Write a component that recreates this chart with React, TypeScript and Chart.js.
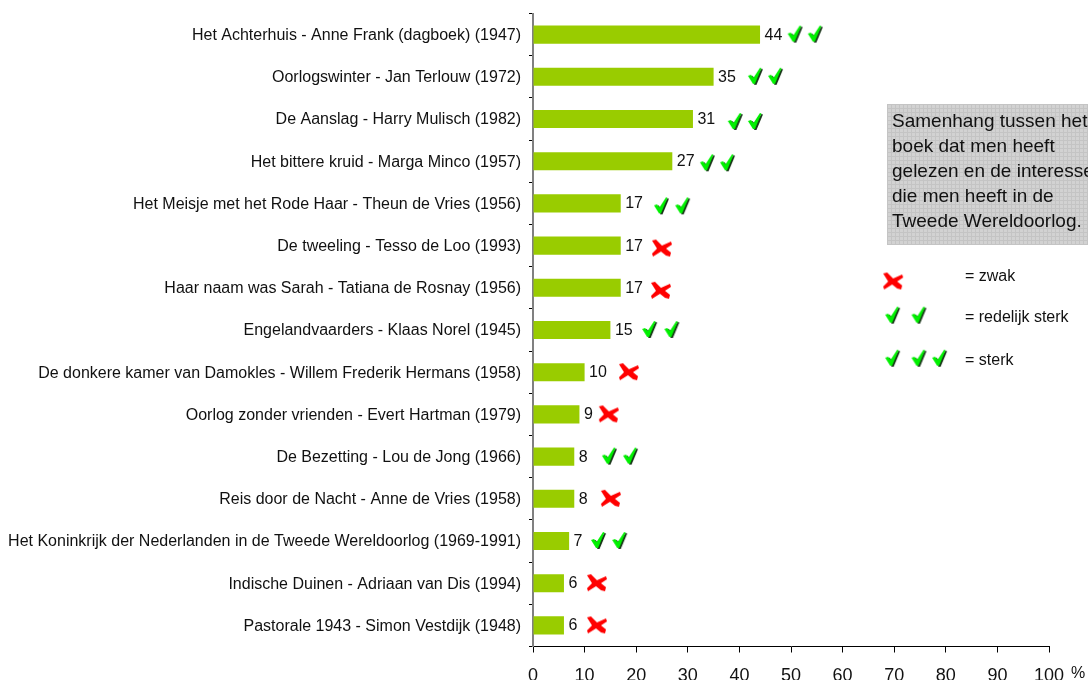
import React, { useEffect, useRef } from "react";
import { Chart, registerables } from "chart.js";

Chart.register(...registerables);

const titles = [
  "Het Achterhuis - Anne Frank (dagboek) (1947)",
  "Oorlogswinter - Jan Terlouw (1972)",
  "De Aanslag - Harry Mulisch (1982)",
  "Het bittere kruid - Marga Minco (1957)",
  "Het Meisje met het Rode Haar - Theun de Vries (1956)",
  "De tweeling - Tesso de Loo (1993)",
  "Haar naam was Sarah - Tatiana de Rosnay (1956)",
  "Engelandvaarders - Klaas Norel (1945)",
  "De donkere kamer van Damokles - Willem Frederik Hermans (1958)",
  "Oorlog zonder vrienden - Evert Hartman (1979)",
  "De Bezetting - Lou de Jong (1966)",
  "Reis door de Nacht - Anne de Vries (1958)",
  "Het Koninkrijk der Nederlanden in de Tweede Wereldoorlog (1969-1991)",
  "Indische Duinen - Adriaan van Dis (1994)",
  "Pastorale 1943 - Simon Vestdijk (1948)",
];
const percentages = [44, 35, 31, 27, 17, 17, 17, 15, 10, 9, 8, 8, 7, 6, 6];

const checkMarks = [
  { x: 50.9, y: 0 }, { x: 54.8, y: 0 },
  { x: 43.2, y: 1 }, { x: 47.1, y: 1 },
  { x: 39.3, y: 2.07 }, { x: 43.2, y: 2.07 },
  { x: 33.9, y: 3.05 }, { x: 37.8, y: 3.05 },
  { x: 25.0, y: 4.07 }, { x: 29.1, y: 4.07 },
  { x: 22.7, y: 7 }, { x: 27.0, y: 7 },
  { x: 14.9, y: 10 }, { x: 19.0, y: 10 },
  { x: 12.8, y: 12 }, { x: 16.9, y: 12 },
];
const crossMarks = [
  { x: 25.0, y: 5.07 },
  { x: 24.8, y: 6.07 },
  { x: 18.6, y: 8 },
  { x: 14.7, y: 9 },
  { x: 15.1, y: 11 },
  { x: 12.4, y: 13 },
  { x: 12.4, y: 14 },
];
const keyChecks = [
  { x: 69.8, y: 6.66 }, { x: 74.9, y: 6.66 },
  { x: 69.8, y: 7.68 }, { x: 74.9, y: 7.68 }, { x: 78.9, y: 7.68 },
];
const keyCrosses = [{ x: 69.8, y: 5.85 }];

const noteLines = [
  "Samenhang tussen het",
  "boek dat men heeft",
  "gelezen en de interesse",
  "die men heeft in de",
  "Tweede Wereldoorlog.",
];
const keyLabels = ["= zwak", "= redelijk sterk", "= sterk"];

const FONT = '"Liberation Sans", Arial, sans-serif';

function makeCheck(): HTMLCanvasElement {
  const c = document.createElement("canvas");
  c.width = 20;
  c.height = 22;
  const g = c.getContext("2d")!;
  const shape = (dx: number, dy: number, color: string) => {
    g.fillStyle = color;
    g.beginPath();
    g.moveTo(2 + dx, 10 + dy);
    g.lineTo(5 + dx, 9 + dy);
    g.lineTo(7.5 + dx, 12 + dy);
    g.lineTo(14 + dx, 2 + dy);
    g.lineTo(15.5 + dx, 2.5 + dy);
    g.lineTo(9 + dx, 18 + dy);
    g.lineTo(7 + dx, 18 + dy);
    g.closePath();
    g.fill();
  };
  shape(1.5, 1, "#173317");
  shape(0, 0, "#00f000");
  return c;
}

function makeCross(): HTMLCanvasElement {
  const c = document.createElement("canvas");
  c.width = 22;
  c.height = 20;
  const g = c.getContext("2d")!;
  g.fillStyle = "#ff0000";
  g.beginPath();
  g.moveTo(1, 2);
  g.lineTo(5, 1);
  g.lineTo(11, 7);
  g.lineTo(20, 3);
  g.lineTo(21, 6);
  g.lineTo(15, 10);
  g.lineTo(20, 14);
  g.lineTo(19, 18);
  g.lineTo(15, 17);
  g.lineTo(10, 13);
  g.lineTo(2, 18);
  g.lineTo(1, 15);
  g.lineTo(6, 10);
  g.closePath();
  g.fill();
  return c;
}

const annotations = {
  id: "annotations",
  afterDatasetsDraw(chart: any) {
    const { ctx } = chart;
    ctx.save();
    // value labels next to the bars
    ctx.font = `16px ${FONT}`;
    ctx.fillStyle = "#111";
    ctx.textAlign = "left";
    ctx.textBaseline = "middle";
    chart.getDatasetMeta(0).data.forEach((bar: any, i: number) => {
      ctx.fillText(String(percentages[i]), bar.x + 4.5, bar.y + 0.5);
    });
    // note box
    ctx.fillStyle = "#d2d2d2";
    ctx.fillRect(887, 104, 201, 141);
    ctx.strokeStyle = "#c4c4c4";
    ctx.lineWidth = 1;
    ctx.beginPath();
    for (let x = 887.5; x < 1088; x += 4) {
      ctx.moveTo(x, 104);
      ctx.lineTo(x, 245);
    }
    for (let y = 104.5; y < 245; y += 4) {
      ctx.moveTo(887, y);
      ctx.lineTo(1088, y);
    }
    ctx.stroke();
    ctx.fillStyle = "#111";
    ctx.font = `19px ${FONT}`;
    ctx.textBaseline = "alphabetic";
    noteLines.forEach((t, i) => ctx.fillText(t, 892, 127 + i * 25));
    // key labels
    ctx.font = `16px ${FONT}`;
    ctx.fillText(keyLabels[0], 965, 281);
    ctx.fillText(keyLabels[1], 965, 322);
    ctx.fillText(keyLabels[2], 965, 365);
    // axis unit
    ctx.fillText("%", 1071, 678);
    ctx.restore();
  },
};

export default function App() {
  const ref = useRef<HTMLCanvasElement>(null);
  useEffect(() => {
    const checkImg = makeCheck();
    const crossImg = makeCross();
    const markStyle = (img: HTMLCanvasElement, data: any[]) => ({
      type: "scatter" as const,
      data,
      parsing: false as const,
      pointStyle: img,
      pointRadius: 10,
      showLine: false,
      clip: false as any,
      xAxisID: "x",
      yAxisID: "y",
    });
    const chart = new Chart(ref.current!, {
      data: {
        labels: titles,
        datasets: [
          {
            type: "bar",
            data: percentages,
            backgroundColor: "#99cc00",
            indexAxis: "y",
            barPercentage: 0.43,
            categoryPercentage: 1,
            xAxisID: "x",
            yAxisID: "y",
          } as any,
          markStyle(checkImg, checkMarks),
          markStyle(crossImg, crossMarks),
          markStyle(checkImg, keyChecks),
          markStyle(crossImg, keyCrosses),
        ],
      },
      options: {
        indexAxis: "y",
        responsive: false,
        animation: false,
        layout: { padding: { top: 13.5, right: 39, left: 0, bottom: 0 } },
        plugins: { legend: { display: false }, tooltip: { enabled: false } },
        scales: {
          x: {
            type: "linear",
            position: "bottom",
            min: 0,
            max: 100,
            afterFit(s: any) {
              s.height = 33.5;
              s.paddingLeft = 0;
              s.paddingRight = 0;
            },
            ticks: {
              stepSize: 10,
              autoSkip: false,
              maxRotation: 0,
              padding: 13,
              color: "#111",
              font: { family: FONT, size: 18 },
            },
            grid: { drawOnChartArea: false, tickLength: 6, tickColor: "#000" },
            border: { color: "#000", width: 1 },
          },
          y: {
            type: "category",
            position: "left",
            offset: true,
            afterFit(s: any) {
              s.width = 533;
              s.paddingTop = 0;
              s.paddingBottom = 0;
            },
            ticks: {
              autoSkip: false,
              padding: 8,
              labelOffset: 1,
              color: "#111",
              font: { family: FONT, size: 16 },
            },
            grid: { drawOnChartArea: false, offset: true, tickLength: 4, tickColor: "#000" },
            border: { color: "#808080", width: 2 },
          },
        },
      },
      plugins: [annotations],
    } as any);
    return () => chart.destroy();
  }, []);
  return (
    <canvas
      ref={ref}
      width={1088}
      height={680}
      style={{ position: "absolute", left: 0, top: 0, width: 1088, height: 680, display: "block" }}
    />
  );
}
